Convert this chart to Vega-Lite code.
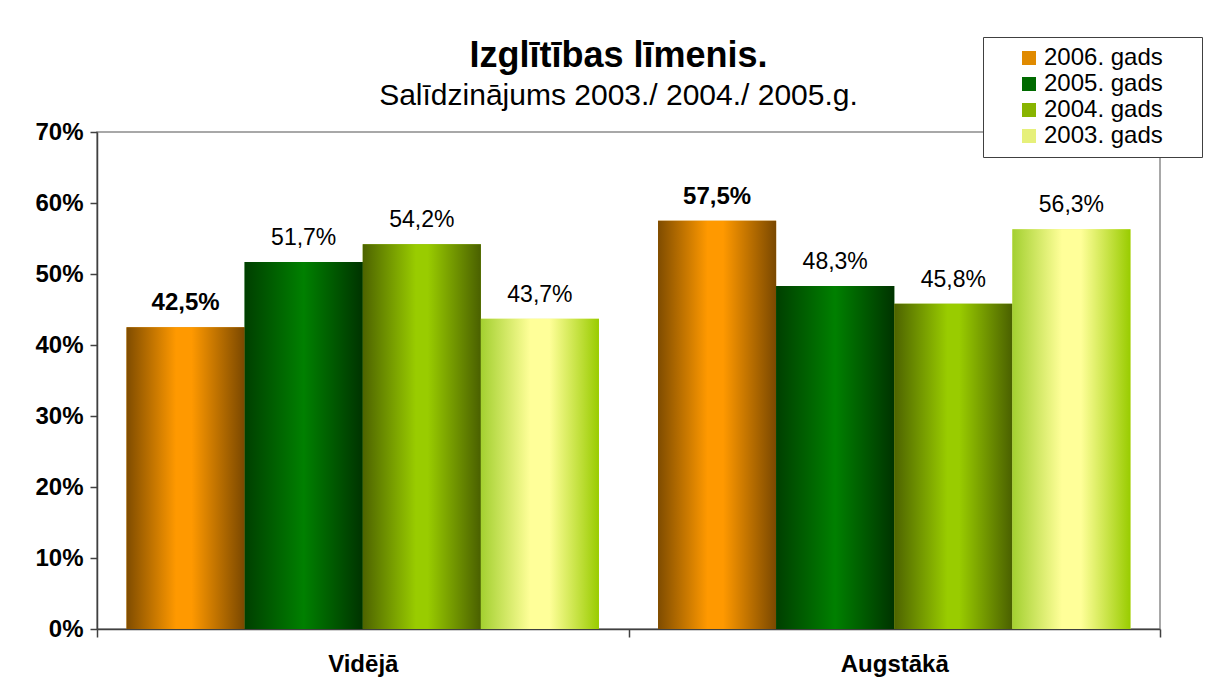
{
  "$schema": "https://vega.github.io/schema/vega-lite/v6.json",
  "width": 1063,
  "height": 497,
  "autosize": {"type": "none"},
  "padding": {"left": 97, "top": 132, "right": 54, "bottom": 53},
  "background": "white",
  "config": {
    "font": "Liberation Sans",
    "locale": {"number": {"decimal": ",", "thousands": " ", "grouping": [3], "currency": ["", " €"]}},
    "view": {"stroke": "#8c8c8c", "strokeWidth": 1.5}
  },
  "title": {
    "text": "Izglītības līmenis.",
    "subtitle": "Salīdzinājums 2003./ 2004./ 2005.g.",
    "font": "Liberation Sans",
    "subtitleFont": "Liberation Sans",
    "fontSize": 36,
    "fontWeight": "bold",
    "color": "black",
    "subtitleFontSize": 30,
    "subtitleColor": "black",
    "anchor": "middle",
    "frame": "group",
    "dx": -10,
    "offset": -75,
    "subtitlePadding": 6
  },
  "data": {
    "values": [
      {"level": "Vidējā", "series": "2006. gads", "value": 0.425},
      {"level": "Vidējā", "series": "2005. gads", "value": 0.517},
      {"level": "Vidējā", "series": "2004. gads", "value": 0.542},
      {"level": "Vidējā", "series": "2003. gads", "value": 0.437},
      {"level": "Augstākā", "series": "2006. gads", "value": 0.575},
      {"level": "Augstākā", "series": "2005. gads", "value": 0.483},
      {"level": "Augstākā", "series": "2004. gads", "value": 0.458},
      {"level": "Augstākā", "series": "2003. gads", "value": 0.563}
    ]
  },
  "encoding": {
    "x": {
      "field": "level",
      "type": "nominal",
      "sort": ["Vidējā", "Augstākā"],
      "scale": {"paddingInner": 0, "paddingOuter": 0},
      "axis": {
        "title": null,
        "labelAngle": 0,
        "labelFontSize": 24,
        "labelFontWeight": "bold",
        "labelColor": "black",
        "tickBand": "extent",
        "tickSize": 8,
        "tickColor": "#404040",
        "tickWidth": 1.5,
        "domainColor": "#404040",
        "domainWidth": 1.5,
        "labelPadding": 15
      }
    },
    "xOffset": {
      "field": "series",
      "type": "nominal",
      "scale": {"domain": ["2006. gads", "2005. gads", "2004. gads", "2003. gads"], "paddingInner": 0, "paddingOuter": 0.25}
    },
    "y": {
      "field": "value",
      "type": "quantitative",
      "scale": {"domain": [0, 0.7]},
      "axis": {
        "title": null,
        "format": ".0%",
        "values": [0, 0.1, 0.2, 0.3, 0.4, 0.5, 0.6, 0.7],
        "grid": false,
        "labelFontSize": 24,
        "labelFontWeight": "bold",
        "labelColor": "black",
        "tickSize": 7,
        "tickColor": "#404040",
        "tickWidth": 1.5,
        "domainColor": "#404040",
        "domainWidth": 1.5,
        "labelPadding": 7
      }
    }
  },
  "layer": [
    {
      "mark": {"type": "bar", "strokeWidth": 0},
      "encoding": {
        "color": {
          "field": "series",
          "type": "nominal",
          "scale": {
            "domain": ["2006. gads", "2005. gads", "2004. gads", "2003. gads"],
            "range": ["#e08a00", "#006a00", "#88b400", "#e6f07a"]
          },
          "legend": {
            "orient": "none",
            "legendX": 886,
            "legendY": -95,
            "title": null,
            "labelFontSize": 24,
            "labelColor": "black",
            "labelFont": "Liberation Sans",
            "symbolType": "square",
            "symbolSize": 196,
            "symbolStrokeWidth": 0,
            "symbolOpacity": 1,
            "symbolOffset": 25,
            "labelOffset": 3,
            "rowPadding": 2,
            "padding": 9,
            "strokeColor": "#404040",
            "fillColor": "white",
            "labelExpr": "datum.label + '\u2002\u2800'"
          }
        }
      }
    },
    {
      "transform": [{"filter": "datum.series === '2006. gads'"}],
      "mark": {"type": "bar", "strokeWidth": 0, "fill": {"gradient": "linear", "x1": 0, "y1": 0, "x2": 1, "y2": 0, "stops": [
        {"offset": 0, "color": "#7f4c00"},
        {"offset": 0.42, "color": "#ff9900"},
        {"offset": 0.55, "color": "#ff9900"},
        {"offset": 1, "color": "#7a4800"}]}}
    },
    {
      "transform": [{"filter": "datum.series === '2005. gads'"}],
      "mark": {"type": "bar", "strokeWidth": 0, "fill": {"gradient": "linear", "x1": 0, "y1": 0, "x2": 1, "y2": 0, "stops": [
        {"offset": 0, "color": "#003f00"},
        {"offset": 0.5, "color": "#008000"},
        {"offset": 1, "color": "#003300"}]}}
    },
    {
      "transform": [{"filter": "datum.series === '2004. gads'"}],
      "mark": {"type": "bar", "strokeWidth": 0, "fill": {"gradient": "linear", "x1": 0, "y1": 0, "x2": 1, "y2": 0, "stops": [
        {"offset": 0, "color": "#4d6300"},
        {"offset": 0.45, "color": "#99cc00"},
        {"offset": 0.55, "color": "#99cc00"},
        {"offset": 1, "color": "#4a6000"}]}}
    },
    {
      "transform": [{"filter": "datum.series === '2003. gads'"}],
      "mark": {"type": "bar", "strokeWidth": 0, "fill": {"gradient": "linear", "x1": 0, "y1": 0, "x2": 1, "y2": 0, "stops": [
        {"offset": 0, "color": "#a3d030"},
        {"offset": 0.42, "color": "#ffff99"},
        {"offset": 0.58, "color": "#ffff99"},
        {"offset": 1, "color": "#99cc00"}]}}
    },
    {
      "transform": [{"filter": "datum.series === '2006. gads'"}],
      "mark": {"type": "text", "fontSize": 24, "fontWeight": "bold", "color": "black", "baseline": "alphabetic", "dy": -17},
      "encoding": {"text": {"field": "value", "type": "quantitative", "format": ".1%"}}
    },
    {
      "transform": [{"filter": "datum.series !== '2006. gads'"}],
      "mark": {"type": "text", "fontSize": 23, "color": "black", "baseline": "alphabetic", "dy": -17},
      "encoding": {"text": {"field": "value", "type": "quantitative", "format": ".1%"}}
    }
  ]
}
